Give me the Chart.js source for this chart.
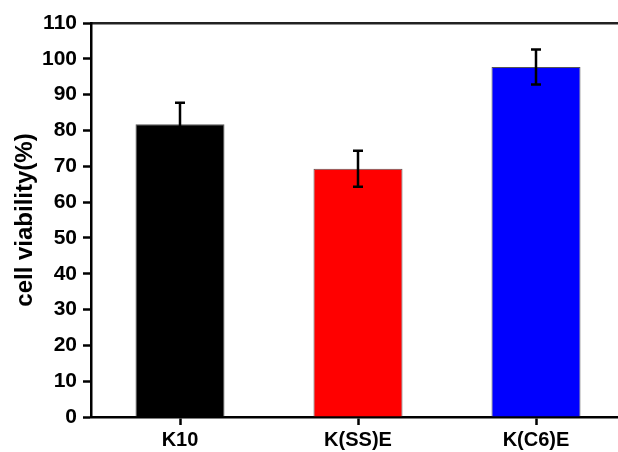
<!DOCTYPE html>
<html>
<head>
<meta charset="utf-8">
<script src="https://cdn.jsdelivr.net/npm/chart.js@4/dist/chart.umd.min.js"></script>
<style>
  html, body { margin: 0; padding: 0; background: #fff; overflow: hidden; }
  #wrap { width: 640px; height: 452px; }
</style>
</head>
<body>
<div id="wrap"><canvas id="chart" width="640" height="452"></canvas></div>
<script>
// data
var categories = ["K10", "K(SS)E", "K(C6)E"];
var viability = [81.7, 69.3, 97.7];
var errors = [6.0, 5.0, 4.9];
var barColors = ["#000000", "#ff0000", "#0000ff"];
var yTicks = [0, 10, 20, 30, 40, 50, 60, 70, 80, 90, 100, 110];

var FONT = "'Liberation Sans', Arial, sans-serif";

// draw the +/- error bars over each bar
var errorBars = {
    id: 'errorBars',
    afterDatasetsDraw: function(chart) {
        var ctx = chart.ctx;
        var x = chart.scales.x;
        var y = chart.scales.y;
        ctx.save();
        ctx.strokeStyle = '#000';
        ctx.lineWidth = 2.5;
        for (var i = 0; i < viability.length; i++) {
            var cx = x.getPixelForValue(i);
            var top = y.getPixelForValue(viability[i] + errors[i]);
            var bot = y.getPixelForValue(viability[i] - errors[i]);
            ctx.beginPath();
            ctx.moveTo(cx, top);
            ctx.lineTo(cx, bot);
            ctx.moveTo(cx - 5, top);
            ctx.lineTo(cx + 5, top);
            ctx.moveTo(cx - 5, bot);
            ctx.lineTo(cx + 5, bot);
            ctx.stroke();
        }
        ctx.restore();
    }
};

var chart = new Chart(document.getElementById('chart').getContext('2d'), {
    type: 'bar',
    data: {
        labels: categories,
        datasets: [{
            data: viability,
            backgroundColor: barColors,
            borderColor: '#555',
            borderWidth: 1,
            barPercentage: 0.5,
            categoryPercentage: 1.0
        }]
    },
    options: {
        responsive: false,
        animation: false,
        layout: { padding: { left: 0, right: 15, top: 23, bottom: 0 } },
        plugins: {
            legend: { display: false },
            tooltip: { enabled: false }
        },
        scales: {
            x: {
                position: 'bottom',
                offset: true,
                border: { display: true, color: '#000', width: 2.5 },
                grid: {
                    offset: false,
                    drawOnChartArea: false,
                    drawTicks: true,
                    tickLength: 8,
                    tickWidth: 2.5,
                    tickColor: '#000'
                },
                ticks: {
                    color: '#000',
                    padding: 3,
                    font: { family: FONT, size: 20, weight: 'bold' }
                },
                afterFit: function(scale) { scale.height = 35; }
            },
            xTop: {
                position: 'top',
                type: 'category',
                labels: categories,
                offset: true,
                border: { display: true, color: '#222', width: 2.5 },
                grid: { display: false, drawTicks: false },
                ticks: { display: false },
                afterFit: function(scale) { scale.height = 0; }
            },
            y: {
                min: 0,
                max: 110,
                afterBuildTicks: function(scale) {
                    scale.ticks = yTicks.map(function(v) { return { value: v }; });
                },
                border: { display: true, color: '#000', width: 2.5 },
                grid: {
                    drawOnChartArea: false,
                    drawTicks: true,
                    tickLength: 8,
                    tickWidth: 2.5,
                    tickColor: '#000'
                },
                ticks: {
                    color: '#000',
                    padding: 6,
                    font: { family: FONT, size: 21, weight: 'bold' }
                },
                title: {
                    display: true,
                    text: 'cell viability(%)',
                    color: '#000',
                    padding: { top: 11, bottom: 0 },
                    font: { family: FONT, size: 24, weight: 'bold' }
                },
                afterFit: function(scale) { scale.width = 91; }
            }
        }
    },
    plugins: [errorBars]
});
</script>
</body>
</html>
